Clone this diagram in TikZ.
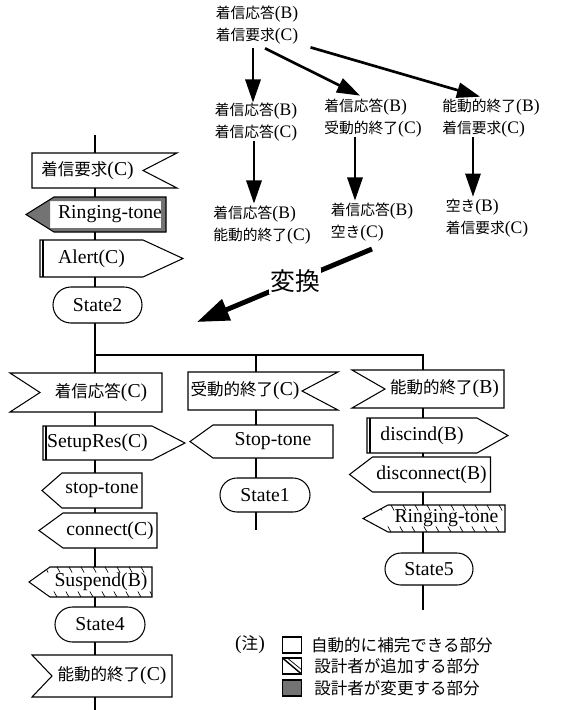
\documentclass[tikz,border=0pt]{standalone}
\usepackage{fontspec}
\setmainfont{Liberation Serif}
\newfontfamily\jp{Noto Sans CJK JP}[Scale=0.84]
\newcommand{\ja}[1]{{\jp #1}}
\usetikzlibrary{positioning,calc,arrows.meta,shapes.misc}

% outlines round a body node: pointer out (sig) or notch in (notch), depth in px
\newcommand{\sigR}[3][]{\draw[boxline,#1] (#2.north west) -- (#2.north east)
  -- ($(#2.east)+(#3,0)$) -- (#2.south east) -- (#2.south west) -- cycle;}
\newcommand{\sigL}[3][]{\draw[boxline,#1] (#2.north east) -- (#2.north west)
  -- ($(#2.west)+(-#3,0)$) -- (#2.south west) -- (#2.south east) -- cycle;}
\newcommand{\notchR}[3][]{\draw[boxline,#1] (#2.north west) -- ($(#2.north east)+(#3,0)$)
  -- (#2.east) -- ($(#2.south east)+(#3,0)$) -- (#2.south west) -- cycle;}
\newcommand{\notchL}[3][]{\draw[boxline,#1] (#2.north east) -- ($(#2.north west)+(-#3,0)$)
  -- (#2.west) -- ($(#2.south west)+(-#3,0)$) -- (#2.south east) -- cycle;}
\newcommand{\dblL}[1]{\draw[boxline] ($(#1.north west)+(3,0)$) -- ($(#1.south west)+(3,0)$);}

\begin{document}
\begin{tikzpicture}[x=0.25mm, y=-0.25mm,
  boxline/.style={line width=0.75pt, line join=miter},
  sz/.style 2 args={minimum width=#1*0.25mm, minimum height=#2*0.25mm},
  body/.style={fill=white, inner sep=0pt, outer sep=0pt,
               font=\fontsize{14}{16}\selectfont},
  statebox/.style={body, draw, line width=0.75pt, shape=rounded rectangle},
  hatchfill/.style={path picture={\foreach \k in {0,...,14}{
      \draw[line width=0.45pt] ([xshift=\k*3mm+1mm]path picture bounding box.north west)
        -- ++(0.8mm,-1.4mm);
      \draw[line width=0.45pt] ([xshift=\k*3mm+1mm]path picture bounding box.south west)
        -- ++(-0.8mm,1.4mm);}}},
  treetxt/.style={align=left, inner sep=0pt, font=\fontsize{12.5}{15.5}\selectfont},
  treearrow/.style={-{Triangle[length=5.8mm,width=3.8mm]}, line width=1.9pt},
  bigarrow/.style={-{Triangle[length=8mm,width=5.5mm]}, line width=3.5pt},
  lgsq/.style={draw, line width=0.8pt, minimum width=4.75mm, minimum height=4mm, inner sep=0pt},
  lgtxt/.style={inner sep=0pt, font=\fontsize{14}{16}\selectfont},
]
\useasboundingbox (0,0) rectangle (562,710);

% ---- state transition tree (top) ----
\node[treetxt] (r0) at (257,25)  {\ja{着信応答}(B)\\\ja{着信要求}(C)};
\node[treetxt] (a1) at (256,122) {\ja{着信応答}(B)\\\ja{着信応答}(C)};
\node[treetxt] (b1) at (373,118) {\ja{着信応答}(B)\\\ja{受動的終了}(C)};
\node[treetxt] (c1) at (491,118) {\ja{能動的終了}(B)\\\ja{着信要求}(C)};
\node[treetxt] (a2) at (262,225) {\ja{着信応答}(B)\\\ja{能動的終了}(C)};
\node[treetxt] (b2) at (372,222) {\ja{着信応答}(B)\\\ja{空き}(C)};
\node[treetxt] (c2) at (487,218) {\ja{空き}(B)\\\ja{着信要求}(C)};

\draw[treearrow] ($(r0.south)+(-4,4)$) -- ($(a1.north)+(-3,0)$);
\draw[treearrow] ($(r0.south)+(8,4)$) -- ($(b1.north west)+(36,-3)$);
\draw[treearrow] ($(r0.south east)+(12,3)$) -- ($(c1.north west)+(38,-2)$);
\draw[treearrow] ($(a1.south)+(-2,0)$) -- ($(a2.north)+(-8,-2)$);
\draw[treearrow] ($(b1.south)+(-18,0)$) -- ($(b2.north)+(-17,-2)$);
\draw[treearrow] ($(c1.south)+(-18,0)$) -- ($(c2.north)+(-14,-2)$);

% ---- conversion arrow ----
\coordinate (tfs) at (372,249);
\coordinate (tfe) at (197,322);
\draw[bigarrow] (tfs) -- node[pos=0.44, fill=white, inner sep=1pt,
  font=\fontsize{21}{23}\selectfont] (tf) {\ja{変換}} (tfe);

% ---- flow lines ----
\coordinate (sp0)  at (95,135);
\coordinate (br0)  at (95,355);
\coordinate (br1)  at (256,355);
\coordinate (br2)  at (423,355);
\coordinate (endL) at (95,710);
\coordinate (endM) at (256,530);
\coordinate (endR) at (423,610);
\draw[line width=0.75pt] (sp0) -- (br0) -- (br2) -- (endR);
\draw[line width=0.75pt] (br0) -- (endL);
\draw[line width=0.75pt] (br1) -- (endM);

% ---- left column ----
\node[body, sz={111}{35}] (rqC) at (87.5,170.5) {\ja{着信要求}(C)};
\notchR{rqC}{34}
\node[body, sz={112}{35}] (ring1) at (110,214.5) {Ringing-tone};
\fill[black!55, even odd rule] (ring1.north east) -- (ring1.north west)
  -- ($(ring1.west)+(-28,0)$) -- (ring1.south west) -- (ring1.south east) -- cycle
  ($(ring1.north west)+(-4,4)$) rectangle ($(ring1.south east)+(-5,-4)$);
\sigL{ring1}{28}
\node[body, sz={103}{37}] (alert) at (91.5,258.5) {Alert(C)};
\sigR{alert}{40} \dblL{alert}
\node[statebox, sz={89}{36}] (st2) at (97.5,305) {State2};
\node[body, sz={122}{39}] (ansC) at (101,392.5) {\ja{着信応答}(C)};
\notchL{ansC}{30}
\node[body, sz={109}{34}] (setup) at (97.5,443) {SetupRes(C)};
\sigR{setup}{33} \dblL{setup}
\node[body, sz={80}{35}] (stop1) at (102,490.5) {stop-tone};
\sigL{stop1}{20}
\node[body, sz={94}{35}] (conn) at (110,530.5) {connect(C)};
\sigL{conn}{24}
\node[body, sz={102}{30}] (susp) at (101,582) {Suspend(B)};
\sigL[hatchfill]{susp}{21}
\node[statebox, sz={90}{35}] (st4) at (100,624.5) {State4};
\node[body, sz={120}{42}] (actC) at (112,676) {\ja{能動的終了}(C)};
\notchL{actC}{20}

% ---- middle column ----
\node[body, sz={114}{38}] (pasC) at (245,391) {\ja{受動的終了}(C)};
\notchR{pasC}{36}
\node[body, sz={120}{33}] (stop2) at (273,441.5) {Stop-tone};
\sigL{stop2}{23}
\node[statebox, sz={90}{34}] (st1) at (265,495) {State1};

% ---- right column ----
\node[body, sz={119}{38}] (actB) at (444.5,389) {\ja{能動的終了}(B)};
\notchL{actB}{33}
\node[body, sz={110}{35}] (disc) at (422,435.5) {discind(B)};
\sigR{disc}{31} \dblL{disc}
\node[body, sz={118}{35}] (dcon) at (431.5,474.5) {disconnect(B)};
\sigL{dcon}{23}
\node[body, sz={117}{27}] (ring2) at (446.5,518.5) {Ringing-tone};
\sigL[hatchfill]{ring2}{25}
\node[statebox, sz={88}{32}] (st5) at (429,569) {State5};

% ---- legend ----
\node[lgtxt] (lgn) at (250,645) {(\ja{注})};
\node[lgsq] (lg1) at (292,645) {};
\node[lgsq, path picture={
    \draw[line width=1pt] (path picture bounding box.north west) -- (path picture bounding box.south east);
    \draw[line width=0.5pt] ([xshift=1.2mm]path picture bounding box.north west) -- ([yshift=1.1mm]path picture bounding box.south east);}]
  (lg2) at (292,666) {};
\node[lgsq, fill=black!55] (lg3) at (292,688) {};
\node[lgtxt, right=2.2mm of lg1] (lt1) {\ja{自動的に補完できる部分}};
\node[lgtxt, right=3mm of lg2] (lt2) {\ja{設計者が追加する部分}};
\node[lgtxt, right=3mm of lg3] (lt3) {\ja{設計者が変更する部分}};

\end{tikzpicture}
\end{document}
